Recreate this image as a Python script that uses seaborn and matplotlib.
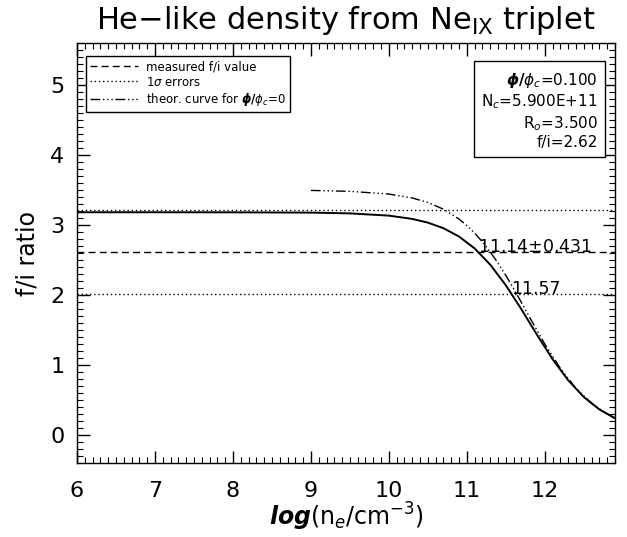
import numpy as np
import pandas as pd

import matplotlib
matplotlib.use("Agg")
import matplotlib.pyplot as plt
from matplotlib.ticker import MultipleLocator
import seaborn as sns

# values
log_ne = [6.0, 7.0, 8.0, 9.0, 9.5, 10.0, 10.3, 10.5, 10.7, 10.9, 11.1, 11.3, 11.5,
          11.7, 11.9, 12.1, 12.3, 12.5, 12.7, 12.9]
fi_model = [3.182, 3.182, 3.181, 3.177, 3.166, 3.134, 3.087, 3.034, 2.954, 2.835,
            2.665, 2.433, 2.139, 1.795, 1.431, 1.082, 0.781, 0.542, 0.365, 0.240]

log_ne_theor = [9.0, 9.5, 10.0, 10.3, 10.5, 10.7, 10.9, 11.0, 11.1, 11.2, 11.3, 11.4,
                11.5, 11.6, 11.7, 11.8, 12.0, 12.2, 12.4, 12.6, 12.8, 12.9]
fi_theor = [3.494, 3.481, 3.442, 3.386, 3.322, 3.226, 3.085, 2.993, 2.884, 2.759,
            2.615, 2.455, 2.279, 2.090, 1.893, 1.691, 1.299, 0.950, 0.666, 0.452,
            0.299, 0.240]

fi_measured = 2.62
fi_err_hi = 3.22
fi_err_lo = 2.02
dens_best = 11.14
dens_err = 0.431
dens_lo_cross = 11.57

phi_ratio = 0.100
n_c = "5.900E+11"
r_0 = 3.500

sns.set_style("ticks")
plt.rcParams['font.family'] = ['DejaVu Sans']
plt.rcParams['mathtext.fontset'] = 'dejavusans'
plt.rcParams['text.color'] = 'black'
plt.rcParams['axes.labelcolor'] = 'black'
plt.rcParams['xtick.color'] = 'black'
plt.rcParams['ytick.color'] = 'black'

model_df = pd.DataFrame({"log_ne": log_ne, "fi": fi_model})
theor_df = pd.DataFrame({"log_ne": log_ne_theor, "fi": fi_theor})

fig = plt.figure(figsize=(6.27, 5.37), dpi=100)
ax = fig.add_axes([77/627, 1 - 463/537, 538/627, 420/537])

sns.lineplot(x="log_ne", y="fi", data=model_df, ax=ax, color="black", linewidth=1.4)
ax.axhline(fi_measured, color="black", linewidth=1.0, linestyle=(0, (5, 3)),
           label="measured f/i value")
ax.axhline(fi_err_hi, color="black", linewidth=1.0, linestyle=(0, (1, 2)),
           label=r"1$\sigma$ errors")
ax.axhline(fi_err_lo, color="black", linewidth=1.0, linestyle=(0, (1, 2)))
sns.lineplot(x="log_ne", y="fi", data=theor_df, ax=ax, color="black", linewidth=1.0,
             linestyle=(0, (7, 2, 1, 2, 1, 2, 1, 2)),
             label=r"theor. curve for $\boldsymbol{\phi/\phi_c}$=0")

ax.text(dens_best, fi_measured, "%.2f$\\pm$%.3f" % (dens_best, dens_err),
        fontsize=12.5, ha="left", va="baseline")
ax.text(dens_lo_cross, fi_err_lo, "%.2f" % dens_lo_cross,
        fontsize=12.5, ha="left", va="baseline")

info = (r"$\boldsymbol{\phi/\phi_c}$=%.3f" % phi_ratio + "\n"
        + r"N$_c$=" + n_c + "\n"
        + r"R$_o$=%.3f" % r_0 + "\n"
        + "f/i=%.2f" % fi_measured)
ax.text(0.968, 0.935, info, transform=ax.transAxes, fontsize=11, ha="right", va="top",
        multialignment="right", linespacing=1.2,
        bbox=dict(boxstyle="square,pad=0.45", fc="white", ec="black", lw=1.0))

leg = ax.legend(loc="upper left", bbox_to_anchor=(0.017, 0.969), fontsize=8.5,
                frameon=True, fancybox=False, edgecolor="black", framealpha=1,
                handlelength=4.0, borderaxespad=0, labelspacing=0.2,
                borderpad=0.35, handletextpad=0.7)
leg.get_frame().set_linewidth(1.0)

ax.set_xlim(6, 12.9)
ax.set_ylim(-0.4, 5.6)
ax.xaxis.set_major_locator(MultipleLocator(1))
ax.xaxis.set_minor_locator(MultipleLocator(0.1))
ax.yaxis.set_major_locator(MultipleLocator(1))
ax.yaxis.set_minor_locator(MultipleLocator(0.1))
ax.tick_params(which="both", direction="in", top=True, right=True, color="black")
ax.tick_params(which="major", length=9, width=1.0, labelsize=16)
ax.tick_params(which="minor", length=4, width=0.8)
ax.tick_params(axis="x", which="major", pad=13)
ax.tick_params(axis="y", which="major", pad=9)
for s in ax.spines.values():
    s.set_linewidth(1.0)
    s.set_color("black")

ax.set_xlabel(r"$\boldsymbol{log}$(n$_e$/cm$^{-3}$)", fontsize=17, labelpad=0)
ax.set_ylabel("f/i ratio", fontsize=17, labelpad=8)
ax.set_title(r"He$-$like density from Ne$_{\rm IX}$ triplet", fontsize=22, pad=10)

fig.savefig("out.png", dpi=100)
